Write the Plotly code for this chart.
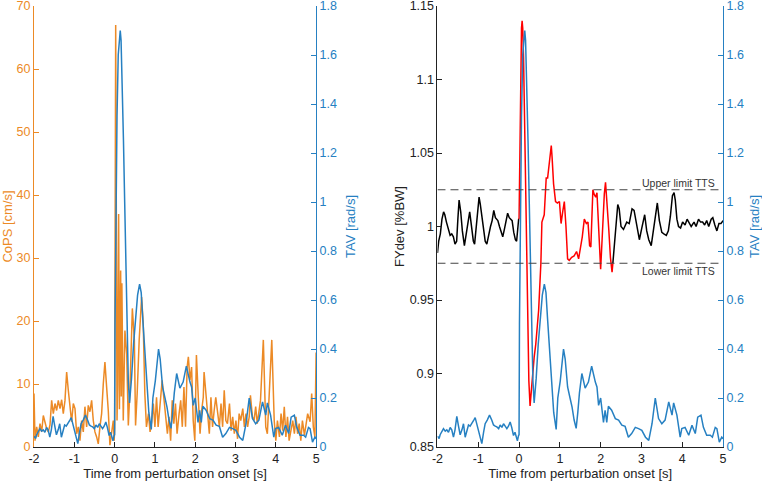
import plotly.graph_objects as go

# ---------------- data ----------------
# CoPS [cm/s] (left panel, orange)
cops_t = [-2.0, -1.975, -1.934, -1.893, -1.851, -1.810, -1.769, -1.727, -1.686, -1.645, -1.603,
          -1.562, -1.521, -1.479, -1.438, -1.397, -1.355, -1.314, -1.273, -1.231, -1.190, -1.149,
          -1.107, -1.066, -1.025, -0.983, -0.942, -0.901, -0.860, -0.818, -0.777, -0.736, -0.694,
          -0.653, -0.612, -0.570, -0.529, -0.488, -0.446, -0.405, -0.364, -0.322, -0.281, -0.240,
          -0.198, -0.157, -0.116, -0.074, -0.033, -0.010,
          0.0, 0.027, 0.045, 0.06, 0.075, 0.10, 0.12, 0.15, 0.165, 0.18, 0.215, 0.256, 0.30, 0.34,
          0.38, 0.44, 0.49, 0.52, 0.56, 0.61, 0.67, 0.71, 0.75, 0.79, 0.84, 0.88, 0.92, 0.96, 1.0,
          1.04, 1.08, 1.12, 1.18, 1.22, 1.27, 1.31, 1.35, 1.39, 1.43, 1.47, 1.51, 1.55, 1.60, 1.64,
          1.68, 1.72, 1.76, 1.80, 1.83, 1.87, 1.91, 1.95, 1.99, 2.03, 2.08, 2.12, 2.16, 2.20, 2.22,
          2.27, 2.31, 2.35, 2.39, 2.43, 2.47, 2.51, 2.56, 2.60, 2.64, 2.68, 2.72, 2.76, 2.80, 2.85,
          2.89, 2.93, 2.97, 3.01, 3.05, 3.09, 3.13, 3.18, 3.22, 3.26, 3.30, 3.34, 3.37, 3.42, 3.46,
          3.50, 3.54, 3.58, 3.62, 3.69, 3.72, 3.75, 3.79, 3.83, 3.90, 3.93, 3.96, 4.00, 4.04, 4.09,
          4.13, 4.17, 4.21, 4.25, 4.29, 4.33, 4.38, 4.42, 4.46, 4.50, 4.54, 4.58, 4.62, 4.66, 4.71,
          4.75, 4.79, 4.85, 4.89, 4.93, 4.97, 5.0]
cops_v = [8.5, 1.0, 3.2, 1.6, 3.7, 2.4, 5.0, 4.0, 2.9, 2.4, 3.5,
          7.4, 5.3, 6.9, 5.8, 7.4, 6.1, 7.5, 5.3, 7.4, 11.9, 9.0,
          5.8, 4.0, 6.9, 6.1, 2.1, 3.2, 1.0, 4.2, 2.4, 6.4, 3.2,
          6.6, 5.6, 7.4, 4.2, 2.4, 1.6, 0.5, 3.2, 5.3, 10.0, 13.5,
          9.5, 5.8, 0.3, 2.1, 4.2, 1.0,
          3.0, 67.0, 15.0, 4.2, 10.0, 37.0, 6.0, 28.0, 8.0, 26.0, 4.2, 18.5, 14.8, 3.4,
          9.0, 22.0, 17.0, 3.4, 8.5, 17.0, 23.8, 19.6, 8.5, 3.2, 5.3, 2.4, 4.0, 6.9, 3.2,
          7.9, 3.2, 5.8, 10.6, 7.9, 4.2, 2.1, 4.8, 1.0, 7.4, 3.7, 6.9, 2.1, 5.3, 7.4,
          3.2, 9.5, 3.2, 12.7, 14.3, 10.6, 12.7, 4.2, 1.0, 14.6, 7.4, 2.1, 5.8, 7.9, 11.9,
          7.9, 4.2, 2.1, 7.9, 3.2, 5.8, 7.9, 5.3, 3.2, 6.9, 3.2, 9.0, 4.2, 3.7, 6.9,
          2.6, 4.8, 2.1, 4.2, 1.3, 5.3, 4.2, 6.1, 3.2, 5.3, 3.2, 4.8, 8.2, 4.8, 4.2,
          6.4, 3.7, 5.3, 7.4, 17.0, 10.6, 3.2, 2.1, 6.9, 17.0, 10.6, 4.2, 1.0, 4.2, 1.6,
          5.3, 2.6, 6.4, 1.6, 4.8, 1.0, 3.2, 4.2, 2.1, 4.8, 2.1, 3.7, 1.0, 4.2, 1.9,
          4.0, 5.3, 4.0, 8.5, 3.2, 1.6, 15.0]

# TAV [rad/s] (blue, both panels)
tav_t = [-2.0, -1.96, -1.935, -1.89, -1.853, -1.81, -1.771, -1.73, -1.689, -1.65, -1.608, -1.57,
         -1.526, -1.49, -1.444, -1.40, -1.362, -1.321, -1.28, -1.24, -1.20, -1.158, -1.11, -1.076,
         -1.03, -0.994, -0.95, -0.913, -0.87, -0.831, -0.78, -0.724, -0.67, -0.626, -0.585, -0.545,
         -0.50, -0.463, -0.42, -0.381, -0.34, -0.299, -0.26, -0.218, -0.18, -0.136, -0.10, -0.07,
         -0.04, -0.013, 0.0,
         0.01, 0.03, 0.06, 0.09, 0.12, 0.14, 0.16, 0.19, 0.22, 0.25, 0.28, 0.31, 0.34, 0.37,
         0.42, 0.47, 0.52, 0.57, 0.62, 0.66, 0.70, 0.75, 0.80, 0.85, 0.91, 0.95, 1.01, 1.05,
         1.09, 1.13, 1.19, 1.25, 1.30, 1.35, 1.40, 1.44, 1.48, 1.54, 1.62, 1.70, 1.78, 1.87,
         1.91, 1.95, 2.0, 2.07, 2.11, 2.15, 2.19, 2.27, 2.36, 2.44, 2.52, 2.60, 2.68, 2.76,
         2.85, 2.93, 3.01, 3.10, 3.18, 3.26, 3.34, 3.42, 3.50, 3.58, 3.67, 3.75, 3.79, 3.87,
         3.95, 3.99, 4.07, 4.16, 4.24, 4.32, 4.38, 4.46, 4.52, 4.60, 4.69, 4.74, 4.81, 4.85,
         4.91, 4.97, 5.0]
tav_v = [0.044, 0.035, 0.05, 0.065, 0.075, 0.065, 0.07, 0.06, 0.08, 0.07, 0.04, 0.07,
         0.125, 0.09, 0.05, 0.07, 0.095, 0.04, 0.07, 0.09, 0.085, 0.095, 0.11, 0.12,
         0.09, 0.06, 0.04, 0.014, 0.06, 0.095, 0.11, 0.13, 0.11, 0.09, 0.085, 0.082,
         0.075, 0.09, 0.08, 0.095, 0.085, 0.075, 0.085, 0.102, 0.08, 0.047, 0.06, 0.04,
         0.025, 0.047, 0.05,
         0.5, 1.0, 1.35, 1.6, 1.69, 1.70, 1.66, 1.5, 1.25, 1.0, 0.7, 0.45, 0.27, 0.18,
         0.28, 0.42, 0.54, 0.62, 0.665, 0.63, 0.52, 0.38, 0.25, 0.14, 0.072, 0.2, 0.27, 0.35,
         0.40, 0.36, 0.245, 0.2, 0.163, 0.11, 0.076, 0.14, 0.22, 0.30, 0.24, 0.265, 0.33, 0.265,
         0.245, 0.17, 0.2, 0.10, 0.15, 0.10, 0.166, 0.15, 0.116, 0.11, 0.089, 0.084, 0.04, 0.055,
         0.08, 0.075, 0.068, 0.04, 0.027, 0.095, 0.2, 0.116, 0.095, 0.11, 0.184, 0.13, 0.18, 0.13,
         0.04, 0.075, 0.08, 0.048, 0.089, 0.055, 0.122, 0.13, 0.08, 0.048, 0.048, 0.04, 0.08, 0.075,
         0.02, 0.04, 0.034]

# FYdev [%BW] (right panel)
fy_t = [-2.0, -1.97, -1.93, -1.89, -1.85, -1.82, -1.78, -1.73, -1.69, -1.65, -1.61, -1.57, -1.53,
        -1.50, -1.47, -1.43, -1.39, -1.34, -1.30, -1.25, -1.21, -1.17, -1.12, -1.09, -1.05, -1.01,
        -0.98, -0.95, -0.91, -0.87, -0.83, -0.79, -0.75, -0.70, -0.66, -0.62, -0.58, -0.55, -0.52,
        -0.48, -0.44, -0.40, -0.36, -0.32, -0.28, -0.24, -0.21, -0.17, -0.13, -0.09, -0.06, -0.03,
        -0.01, 0.0,
        0.02, 0.04, 0.06, 0.075, 0.09, 0.11, 0.13, 0.15, 0.18, 0.21, 0.24, 0.27, 0.30, 0.34, 0.37,
        0.41, 0.45, 0.48, 0.535, 0.56, 0.617, 0.666, 0.70, 0.72, 0.764, 0.79, 0.81, 0.846, 0.895,
        0.94, 0.99, 1.03, 1.07, 1.11, 1.15, 1.19, 1.23, 1.29, 1.35, 1.41, 1.46, 1.50, 1.55, 1.60,
        1.65, 1.69, 1.73, 1.76, 1.79, 1.81, 1.84, 1.88, 1.91, 1.94, 1.97, 2.0, 2.02, 2.06, 2.09,
        2.12, 2.15, 2.20, 2.24, 2.28, 2.30,
        2.34, 2.38, 2.42, 2.455, 2.50, 2.56, 2.60, 2.64, 2.70, 2.77, 2.82, 2.87, 2.91, 2.95, 3.01,
        3.08, 3.13, 3.18, 3.24, 3.30, 3.35, 3.39, 3.44, 3.50, 3.55, 3.61, 3.66, 3.71, 3.76, 3.80,
        3.83, 3.87, 3.91, 3.96, 4.01, 4.07, 4.12, 4.17, 4.22, 4.29, 4.34, 4.40, 4.45, 4.50, 4.55,
        4.60, 4.65, 4.71, 4.75, 4.80, 4.85, 4.90, 4.95, 5.0]
fy_v = [0.982, 0.990, 0.995, 1.005, 1.010, 1.008, 1.003, 0.997, 0.994, 0.995, 0.993, 0.988, 0.990,
        1.005, 1.018, 1.010, 0.997, 0.987, 0.993, 1.003, 1.010, 1.000, 0.990, 0.988, 0.998, 1.012,
        1.020, 1.015, 1.007, 0.997, 0.990, 0.988, 0.994, 1.000, 1.004, 1.011, 1.006, 1.005, 1.004,
        1.000, 0.996, 0.993, 0.998, 1.004, 1.009, 1.006, 1.005, 1.004, 0.996, 0.991, 0.990, 1.003,
        1.005, 1.005,
        1.06, 1.11, 1.135, 1.14, 1.135, 1.115, 1.08, 1.04, 0.98, 0.93, 0.895, 0.878, 0.89, 0.905, 0.911,
        0.92, 0.935, 0.943, 0.975, 1.003, 1.008, 1.033, 1.033, 1.038, 1.049, 1.055, 1.047, 1.029, 1.017,
        1.016, 1.017, 1.002, 1.010, 1.017, 1.000, 0.978, 0.977, 0.979, 0.980, 0.983, 0.978, 0.984, 0.993, 1.005,
        1.002, 1.003, 0.987, 0.986, 1.007, 1.025, 1.022, 1.020, 1.023, 1.007, 0.982, 0.971, 0.982, 1.007, 1.022,
        1.030, 1.020, 0.998, 0.979, 0.969, 0.975,
        0.990, 1.005, 1.015, 1.012, 1.000, 0.998, 1.000, 1.003, 1.002, 1.012, 1.011, 1.003, 0.996, 0.991, 0.999,
        1.008, 0.997, 0.991, 0.987, 0.999, 1.009, 1.016, 1.004, 0.996, 0.995, 0.994, 0.997, 1.007, 1.021, 1.023,
        1.018, 1.005, 1.000, 0.999, 1.003, 1.001, 1.005, 1.002, 1.000, 1.003, 1.000, 1.005, 1.003, 1.003, 1.001,
        1.004, 1.000, 1.005, 1.006, 1.001, 0.997, 1.002, 1.002, 1.004]

TTS_START = 0.0
TTS_END = 2.30
UPPER_LIMIT = 1.025
LOWER_LIMIT = 0.975

x_ticks = [-2, -1, 0, 1, 2, 3, 4, 5]
x_ticktext = ["-2", "-1", "0", "1", "2", "3", "4", "5"]
cops_ticks = [0, 10, 20, 30, 40, 50, 60, 70]
tav_ticks = [0, 0.2, 0.4, 0.6, 0.8, 1.0, 1.2, 1.4, 1.6, 1.8]
tav_ticktext = ["0", "0.2", "0.4", "0.6", "0.8", "1", "1.2", "1.4", "1.6", "1.8"]
fy_ticks = [0.85, 0.9, 0.95, 1.0, 1.05, 1.1, 1.15]
fy_ticktext = ["0.85", "0.9", "0.95", "1", "1.05", "1.1", "1.15"]

# ---------------- style ----------------
ORANGE = "#EC8A26"
BLUE = "#2680C2"
RED = "#FF0000"
FONT = "Liberation Sans, Arial, Helvetica, sans-serif"
W, H = 762, 481
TICK_SIZE = 12.5
TITLE_SIZE = 13

# split FYdev into normal (black) and within-TTS (red) segments
black_x, black_y, red_x, red_y = [], [], [], []
for t, v in zip(fy_t, fy_v):
    if t <= TTS_START:
        black_x.append(t); black_y.append(v)
    if TTS_START <= t <= TTS_END:
        red_x.append(t); red_y.append(v)
black_x.append(None); black_y.append(None)
for t, v in zip(fy_t, fy_v):
    if t >= TTS_END:
        black_x.append(t); black_y.append(v)

fig = go.Figure()
fig.add_trace(go.Scatter(x=cops_t, y=cops_v, mode="lines", line=dict(color=ORANGE, width=1.5),
                         xaxis="x", yaxis="y", showlegend=False))
fig.add_trace(go.Scatter(x=tav_t, y=tav_v, mode="lines", line=dict(color=BLUE, width=1.5),
                         xaxis="x", yaxis="y2", showlegend=False))
fig.add_trace(go.Scatter(x=black_x, y=black_y, mode="lines", line=dict(color="black", width=1.5),
                         xaxis="x2", yaxis="y3", showlegend=False, connectgaps=False))
fig.add_trace(go.Scatter(x=red_x, y=red_y, mode="lines", line=dict(color=RED, width=1.5),
                         xaxis="x2", yaxis="y3", showlegend=False))
fig.add_trace(go.Scatter(x=tav_t, y=tav_v, mode="lines", line=dict(color=BLUE, width=1.5),
                         xaxis="x2", yaxis="y4", showlegend=False))

# plot area placement
ml, mr, mt, mb = 34, 39.3, 6, 34.3
pw = W - ml - mr
d1 = [0, (316 - 34) / pw]
d2 = [(437.3 - 34) / pw, 1]

xcommon = dict(range=[-2, 5], tickvals=x_ticks, ticktext=x_ticktext, ticks="inside", ticklen=5,
               tickcolor="#222", showline=True, linecolor="#222", linewidth=1, showgrid=False,
               zeroline=False, tickfont=dict(family=FONT, size=TICK_SIZE, color="#222"),
               ticklabeloverflow="allow",
               title=dict(text="Time from perturbation onset [s]",
                          font=dict(family=FONT, size=TITLE_SIZE, color="#222"), standoff=3))


def yax(rng, vals, text, color, title, standoff, **kw):
    return dict(range=rng, tickvals=vals, ticktext=text, ticks="inside", ticklen=5, tickcolor=color,
                showline=True, linecolor=color, linewidth=1, showgrid=False, zeroline=False,
                tickfont=dict(family=FONT, size=TICK_SIZE, color=color), ticklabeloverflow="allow",
                title=dict(text=title, font=dict(family=FONT, size=TITLE_SIZE, color=color),
                           standoff=standoff), **kw)


fig.update_layout(
    width=W, height=H, margin=dict(l=ml, r=mr, t=mt, b=mb, autoexpand=False),
    paper_bgcolor="white", plot_bgcolor="white",
    xaxis=dict(domain=d1, anchor="y", **xcommon),
    xaxis2=dict(domain=d2, anchor="y3", **xcommon),
    yaxis=yax([0, 70], cops_ticks, [str(v) for v in cops_ticks], ORANGE, "CoPS [cm/s]", 4, anchor="x"),
    yaxis2=yax([0, 1.8], tav_ticks, tav_ticktext, BLUE, "TAV [rad/s]", 9,
               overlaying="y", side="right", anchor="x"),
    yaxis3=yax([0.85, 1.15], fy_ticks, fy_ticktext, "#222", "FYdev [%BW]", 2, anchor="x2"),
    yaxis4=yax([0, 1.8], tav_ticks, tav_ticktext, BLUE, "TAV [rad/s]", 12,
               overlaying="y3", side="right", anchor="x2"),
)

for yv in (UPPER_LIMIT, LOWER_LIMIT):
    fig.add_shape(type="line", xref="x2", yref="y3", x0=-2, x1=5, y0=yv, y1=yv,
                  line=dict(color="#444", width=1.2, dash="8px,5px"))

fig.add_annotation(x=5, y=UPPER_LIMIT, xref="x2", yref="y3", text="Upper limit TTS", showarrow=False,
                   xanchor="right", yanchor="bottom", xshift=-6, yshift=-1,
                   font=dict(family=FONT, size=10.5, color="#333"))
fig.add_annotation(x=5, y=LOWER_LIMIT, xref="x2", yref="y3", text="Lower limit TTS", showarrow=False,
                   xanchor="right", yanchor="top", xshift=-6, yshift=0,
                   font=dict(family=FONT, size=10.5, color="#333"))

fig.write_html("out.html")
